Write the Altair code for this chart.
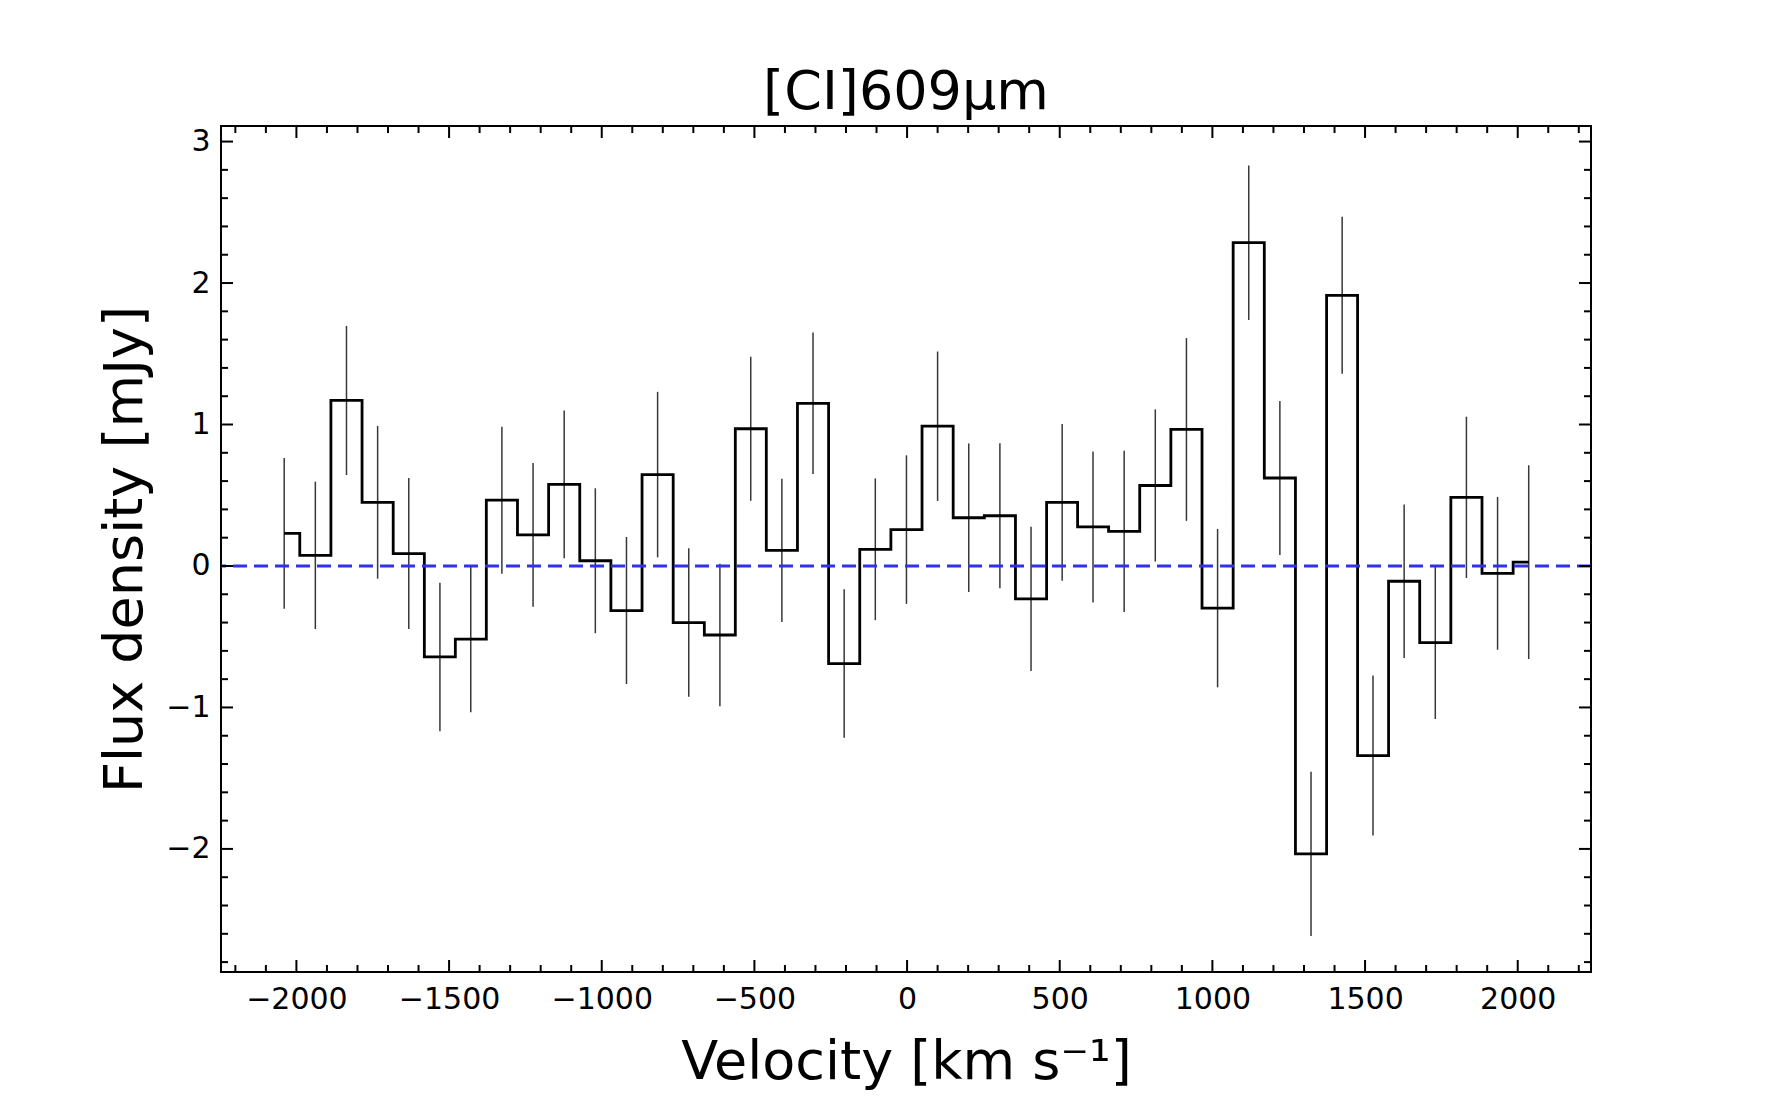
import altair as alt
import pandas as pd

# ---- data ----
velocity = [-2040, -1938, -1836, -1734, -1632, -1530, -1429, -1327, -1225, -1123,
            -1021, -919, -817, -715, -613, -512, -410, -308, -206, -104,
            -2, 100, 202, 304, 406, 508, 609, 711, 813, 915,
            1017, 1119, 1221, 1323, 1425, 1526, 1628, 1730, 1832, 1934, 2036]
flux = [0.23, 0.075, 1.17, 0.45, 0.088, -0.643, -0.517, 0.465, 0.22, 0.577,
        0.037, -0.315, 0.646, -0.40, -0.488, 0.97, 0.11, 1.15, -0.69, 0.118,
        0.257, 0.988, 0.341, 0.355, -0.232, 0.45, 0.276, 0.244, 0.569, 0.965,
        -0.298, 2.285, 0.622, -2.035, 1.913, -1.34, -0.108, -0.542, 0.485, -0.052, 0.027]
flux_err = [0.533, 0.521, 0.527, 0.54, 0.533, 0.525, 0.517, 0.52, 0.508, 0.522,
            0.512, 0.52, 0.585, 0.525, 0.504, 0.509, 0.506, 0.50, 0.525, 0.501,
            0.525, 0.528, 0.525, 0.513, 0.51, 0.554, 0.534, 0.57, 0.538, 0.646,
            0.56, 0.546, 0.545, 0.58, 0.555, 0.565, 0.542, 0.54, 0.57, 0.54, 0.685]

x_major = [-2000, -1500, -1000, -500, 0, 500, 1000, 1500, 2000]
x_minor = [v for v in range(-2200, 2201, 100) if v % 500 != 0]
y_major = [-2, -1, 0, 1, 2, 3]
y_minor = [-2.8, -2.6, -2.4, -2.2, -1.8, -1.6, -1.4, -1.2, -0.8, -0.6, -0.4, -0.2,
           0.2, 0.4, 0.6, 0.8, 1.2, 1.4, 1.6, 1.8, 2.2, 2.4, 2.6, 2.8]

df = pd.DataFrame({"v": velocity, "f": flux, "e": flux_err})
df["lo"] = df["f"] - df["e"]
df["hi"] = df["f"] + df["e"]

W, H = 1370, 846
FONT = "DejaVu Sans"
MAJ, MIN = 12, 7

xs = alt.Scale(domain=[-2247, 2240], nice=False, zero=False)
ys = alt.Scale(domain=[-2.87, 3.11], nice=False, zero=False)

x_axis = alt.Axis(values=x_major, format="d", ticks=False, domain=False, grid=False,
                  labelFontSize=30, labelFont=FONT, labelColor="black", labelPadding=12,
                  labelFlush=False,
                  title="Velocity [km s⁻¹]", titleFont=FONT, titleFontSize=54,
                  titleFontWeight="normal", titleColor="black",
                  titleBaseline="alphabetic", titleY=106)
y_axis = alt.Axis(values=y_major, format="d", ticks=False, domain=False, grid=False,
                  labelFontSize=30, labelFont=FONT, labelColor="black", labelPadding=11,
                  labelFlush=False,
                  title="Flux density [mJy]", titleFont=FONT, titleFontSize=54,
                  titleFontWeight="normal", titleColor="black",
                  titleBaseline="alphabetic", titleX=-80)

X = lambda f: alt.X(f, scale=xs, axis=x_axis)
Y = lambda f: alt.Y(f, scale=ys, axis=y_axis)

err = alt.Chart(df).mark_rule(color="#383838", strokeWidth=1.5).encode(
    x=X("v:Q"), y=Y("lo:Q"), y2="hi:Q")
step = alt.Chart(df).mark_line(interpolate="step", color="black", strokeWidth=2.8).encode(
    x=X("v:Q"), y=Y("f:Q"))
zero = alt.Chart(pd.DataFrame({"z": [0]})).mark_rule(
    color="#3030f0", strokeWidth=3.0, strokeDash=[14, 7]).encode(y=Y("z:Q"))

dxM = pd.DataFrame({"t": x_major})
dxm = pd.DataFrame({"t": x_minor})
dyM = pd.DataFrame({"t": y_major})
dym = pd.DataFrame({"t": y_minor})

def xticks(d, L):
    top = alt.Chart(d).mark_rule(color="black", strokeWidth=2).encode(
        x=X("t:Q"), y=alt.value(0), y2=alt.value(L))
    bot = alt.Chart(d).mark_rule(color="black", strokeWidth=2).encode(
        x=X("t:Q"), y=alt.value(H), y2=alt.value(H - L))
    return [top, bot]

def yticks(d, L):
    left = alt.Chart(d).mark_rule(color="black", strokeWidth=2).encode(
        y=Y("t:Q"), x=alt.value(0), x2=alt.value(L))
    right = alt.Chart(d).mark_rule(color="black", strokeWidth=2).encode(
        y=Y("t:Q"), x=alt.value(W), x2=alt.value(W - L))
    return [left, right]

layers = [err, step, zero] + xticks(dxM, MAJ) + xticks(dxm, MIN) + yticks(dyM, MAJ) + yticks(dym, MIN)

chart = alt.layer(*layers).properties(
    width=W, height=H,
    title=alt.Title("[CI]609μm", font=FONT, fontSize=54, fontWeight="normal",
                    color="black", anchor="middle", baseline="alphabetic", offset=17, dy=55),
    padding={"left": 213, "top": 118, "right": 160, "bottom": 120},
    autosize=alt.AutoSizeParams(type="none"),
).configure_view(stroke="black", strokeWidth=2)

chart.save("out.html", embed_options={"renderer": "svg", "actions": False})
